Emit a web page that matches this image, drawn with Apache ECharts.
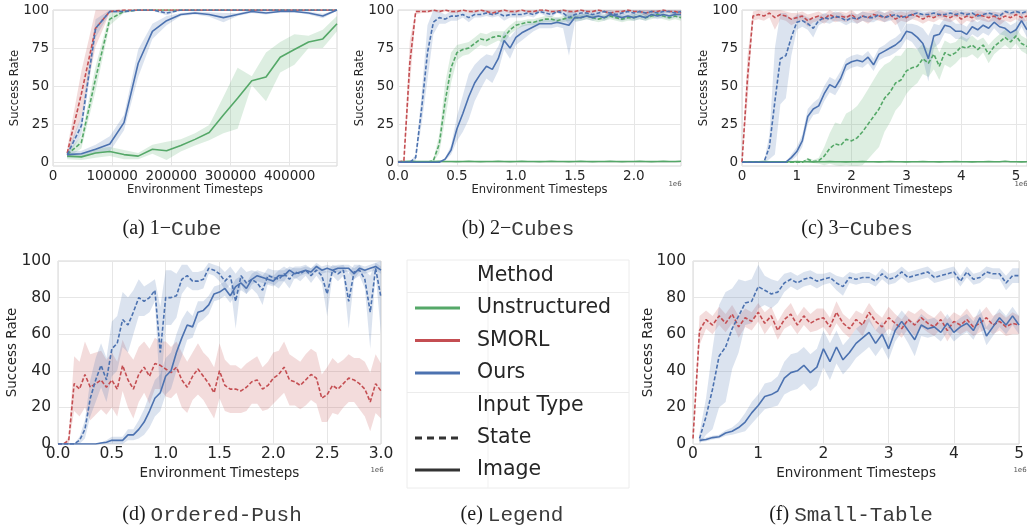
<!DOCTYPE html>
<html>
<head>
<meta charset="utf-8">
<script src="https://cdn.jsdelivr.net/npm/echarts@6/dist/echarts.min.js"></script>
<style>
  html, body { margin: 0; padding: 0; background: #fff; }
  #chart { width: 1027px; height: 529px; }
</style>
</head>
<body>
<div id="chart"></div>
<script>
const GREEN = '#55a868'
const RED = '#c44e52'
const BLUE = '#4c72b0'

// (a) 1-Cube
const xA = [24000, 48000, 72000, 96000, 120000, 144000, 168000, 192000, 216000, 240000,
  264000, 288000, 312000, 336000, 360000, 384000, 408000, 432000, 456000, 480000]
const aUnsImg = [4, 3.5, 6, 7, 5, 4, 8.5, 7.5, 11, 15, 19.5, 31, 42, 53.5, 56, 69, 74, 79, 81, 91]
const aUnsImgSd = [2, 2, 3, 3, 3, 2, 3, 6, 4, 4, 5, 12, 20, 3, 16, 10, 10, 4, 6, 5]
const aUnsState = [5, 13, 55, 94, 99, 100, 100, 100, 100, 100, 100, 100, 100, 100, 100, 100, 100, 100, 100, 100]
const aUnsStateSd = [2, 4, 8, 4, 1, 0.5, 0.3, 0.3, 0.3, 0.3, 0.3, 0.3, 0.3, 0.3, 0.3, 0.3, 0.3, 0.3, 0.3, 0.3]
const aSmorlState = [6, 45, 88, 99, 100, 100, 100, 100, 100, 100, 100, 100, 100, 100, 100, 100, 100, 100, 100, 100]
const aSmorlStateSd = [3, 15, 12, 1, 0.5, 0.3, 0.3, 0.3, 0.3, 0.3, 0.3, 0.3, 0.3, 0.3, 0.3, 0.3, 0.3, 0.3, 0.3, 0.3]
const aOursState = [5, 24, 88, 99, 99, 100, 100, 98, 100, 100, 100, 100, 100, 100, 100, 100, 100, 100, 100, 100]
const aOursStateSd = [2, 6, 6, 1, 1, 0.5, 0.5, 1.5, 0.5, 0.5, 0.5, 0.5, 0.5, 0.5, 0.5, 0.5, 0.5, 0.5, 0.5, 0.5]
const aOursImg = [5, 5.5, 8.5, 12, 26, 65, 86, 93, 97, 98, 97, 95, 97, 99, 98, 99, 99, 98, 96, 100]
const aOursImgSd = [2, 2, 3, 5, 5, 9, 5, 3, 1, 1, 1.5, 3, 1, 1, 1, 0.5, 0.5, 1, 1.5, 0.5]

// (b) 2-Cubes, x in 1e6 steps
const xB = [0, 0.05, 0.1, 0.15, 0.2, 0.25, 0.3, 0.35, 0.4, 0.45,
  0.5, 0.55, 0.6, 0.65, 0.7, 0.75, 0.8, 0.85, 0.9, 0.95,
  1.0, 1.05, 1.1, 1.15, 1.2, 1.25, 1.3, 1.35, 1.4, 1.45,
  1.5, 1.55, 1.6, 1.65, 1.7, 1.75, 1.8, 1.85, 1.9, 1.95,
  2.0, 2.05, 2.1, 2.15, 2.2, 2.25, 2.3, 2.35, 2.4]
const bUnsImg = [0.5, 0.4, 0.6, 0.5, 0.5, 0.4, 0.5, 0.6, 0.5, 0.5,
  0.4, 0.5, 0.6, 0.5, 0.4, 0.5, 0.5, 0.6, 0.5, 0.4,
  0.5, 0.6, 0.5, 0.5, 0.4, 0.5, 0.6, 0.5, 0.5, 0.4,
  0.5, 0.6, 0.5, 0.4, 0.5, 0.5, 0.6, 0.5, 0.4, 0.5,
  0.5, 0.6, 0.5, 0.4, 0.5, 0.6, 0.5, 0.5, 0.6]
const bUnsImgSd = [0.3, 0.3, 0.3, 0.3, 0.3, 0.3, 0.3, 0.3, 0.3, 0.3,
  0.3, 0.3, 0.3, 0.3, 0.3, 0.3, 0.3, 0.3, 0.3, 0.3,
  0.3, 0.3, 0.3, 0.3, 0.3, 0.3, 0.3, 0.3, 0.3, 0.3,
  0.3, 0.3, 0.3, 0.3, 0.3, 0.3, 0.3, 0.3, 0.3, 0.3,
  0.3, 0.3, 0.3, 0.3, 0.3, 0.3, 0.3, 0.3, 0.3]
const bUnsState = [0, 0, 0, 0, 0, 0, 1, 12, 40, 62,
  72, 74, 75, 78, 81, 80, 82, 83, 82, 87,
  90, 91, 92, 92, 93, 94, 94, 93, 94, 95,
  95, 95, 96, 95, 94, 95, 96, 95, 94, 95,
  95, 96, 95, 96, 97, 96, 95, 96, 95]
const bUnsStateSd = [0, 0, 0, 0, 0, 0, 1, 6, 12, 10,
  5, 4, 4, 4, 4, 4, 4, 3, 4, 3,
  3, 2, 2, 2, 2, 2, 2, 2, 2, 2,
  2, 2, 2, 2, 2, 2, 2, 2, 2, 2,
  2, 2, 2, 2, 2, 2, 2, 2, 2]
const bSmorlState = [0, 1, 65, 99, 99, 99, 100, 99, 100, 99,
  99, 100, 99, 99, 100, 99, 98, 99, 100, 99,
  99, 100, 99, 99, 100, 100, 99, 99, 100, 99,
  99, 100, 99, 99, 100, 99, 98, 99, 99, 100,
  99, 99, 98, 99, 99, 100, 99, 99, 98]
const bSmorlStateSd = [0, 1, 15, 2, 1, 1, 1, 1, 1, 1,
  1, 1, 1, 1, 1, 1, 2, 1, 1, 1,
  1, 1, 1, 1, 1, 1, 1, 1, 1, 1,
  1, 1, 1, 1, 1, 1, 2, 1, 1, 1,
  1, 1, 2, 1, 1, 1, 1, 1, 2]
const bOursState = [0, 0, 0, 3, 35, 72, 92, 95, 94, 96,
  96, 97, 95, 97, 97, 98, 97, 98, 96, 97,
  97, 97, 98, 97, 99, 98, 97, 99, 98, 95,
  97, 98, 98, 97, 98, 99, 98, 97, 98, 99,
  98, 99, 98, 99, 98, 99, 99, 98, 99]
const bOursStateSd = [0, 0, 0, 2, 10, 18, 8, 4, 3, 3,
  3, 2, 3, 2, 2, 2, 2, 2, 3, 2,
  2, 2, 2, 2, 1, 2, 2, 1, 2, 5,
  2, 2, 2, 2, 2, 1, 2, 2, 2, 1,
  2, 1, 2, 1, 2, 1, 1, 2, 1]
const bOursImg = [0, 0, 0, 0, 0, 0, 0, 0, 2, 8,
  22, 32, 43, 52, 58, 63, 61, 68, 80, 75,
  82, 85, 87, 89, 91, 91, 91, 92, 91, 90,
  95, 95, 96, 95, 96, 95, 97, 96, 95, 96,
  95, 96, 95, 97, 96, 97, 96, 97, 97]
const bOursImgSd = [0, 0, 0, 0, 0, 0, 0, 0, 1, 3,
  8, 12, 15, 12, 10, 8, 9, 8, 6, 7,
  5, 5, 4, 3, 3, 3, 3, 3, 3, 20,
  3, 2, 2, 2, 2, 2, 2, 2, 2, 2,
  2, 2, 2, 2, 2, 2, 2, 2, 2]

// (c) 3-Cubes, x in 1e6 steps
const xC = [0, 0.1, 0.2, 0.3, 0.4, 0.5, 0.6, 0.7, 0.8, 0.9,
  1.0, 1.1, 1.2, 1.3, 1.4, 1.5, 1.6, 1.7, 1.8, 1.9,
  2.0, 2.1, 2.2, 2.3, 2.4, 2.5, 2.6, 2.7, 2.8, 2.9,
  3.0, 3.1, 3.2, 3.3, 3.4, 3.5, 3.6, 3.7, 3.8, 3.9,
  4.0, 4.1, 4.2, 4.3, 4.4, 4.5, 4.6, 4.7, 4.8, 4.9,
  5.0, 5.1, 5.2]
const cUnsImg = [0.3, 0.3, 0.2, 0.3, 0.4, 0.3, 0.3, 0.2, 0.3, 0.3,
  0.4, 0.3, 0.3, 0.2, 0.3, 0.3, 0.4, 0.3, 0.3, 0.2,
  0.3, 0.3, 0.4, 0.3, 0.3, 0.2, 0.3, 0.5, 0.3, 0.3,
  0.2, 0.3, 0.3, 0.4, 0.3, 0.3, 0.2, 0.3, 0.3, 0.4,
  0.3, 0.3, 0.2, 0.3, 0.3, 0.4, 0.3, 0.3, 0.6, 0.3,
  0.3, 0.2, 0.3]
const cUnsImgSd = [0.2, 0.2, 0.2, 0.2, 0.2, 0.2, 0.2, 0.2, 0.2, 0.2,
  0.2, 0.2, 0.2, 0.2, 0.2, 0.2, 0.2, 0.2, 0.2, 0.2,
  0.2, 0.2, 0.2, 0.2, 0.2, 0.2, 0.2, 0.2, 0.2, 0.2,
  0.2, 0.2, 0.2, 0.2, 0.2, 0.2, 0.2, 0.2, 0.2, 0.2,
  0.2, 0.2, 0.2, 0.2, 0.2, 0.2, 0.2, 0.2, 0.2, 0.2,
  0.2, 0.2, 0.2]
const cUnsState = [0, 0, 0, 0, 0, 0, 0, 0, 0, 0,
  0, 0, 2, 0.5, 1, 4, 9, 12, 11, 15,
  14, 16, 20, 25, 30, 35, 42, 46, 52, 54,
  60, 62, 63, 68, 65, 71, 63, 72, 70, 72,
  76, 75, 77, 74, 77, 71, 76, 79, 82, 79,
  83, 78, 76]
const cUnsStateSd = [0, 0, 0, 0, 0, 0, 0, 0, 0, 0,
  0, 0, 1, 1, 2, 6, 10, 14, 14, 17,
  20, 21, 22, 23, 24, 25, 22, 20, 18, 16,
  15, 13, 11, 10, 9, 10, 9, 8, 8, 7,
  7, 6, 6, 6, 5, 6, 5, 5, 5, 5,
  5, 5, 5]
const cSmorlState = [0, 55, 96, 97, 96, 98, 95, 97, 96, 94,
  95, 96, 93, 95, 96, 94, 97, 95, 96, 95,
  97, 94, 96, 95, 97, 96, 95, 97, 94, 96,
  95, 97, 96, 94, 96, 95, 97, 96, 95, 97,
  94, 96, 95, 97, 96, 95, 96, 94, 96, 95,
  97, 95, 96]
const cSmorlStateSd = [0, 15, 3, 3, 3, 3, 8, 3, 3, 4,
  3, 3, 4, 3, 3, 3, 3, 3, 3, 3,
  3, 3, 3, 4, 3, 3, 3, 3, 4, 3,
  3, 3, 3, 3, 3, 3, 3, 3, 3, 3,
  4, 3, 3, 3, 3, 3, 3, 4, 3, 3,
  3, 3, 3]
const cOursState = [0, 0, 0, 0, 0, 10, 40, 68, 70, 82,
  92, 93, 91, 88, 93, 95, 94, 96, 95, 93,
  95, 94, 96, 95, 95, 97, 95, 96, 97, 95,
  96, 97, 98, 97, 97, 98, 97, 97, 98, 97,
  98, 97, 98, 96, 97, 98, 97, 96, 99, 98,
  99, 98, 99]
const cOursStateSd = [0, 0, 0, 0, 0, 8, 35, 30, 28, 12,
  5, 4, 4, 6, 3, 3, 3, 3, 3, 3,
  3, 3, 3, 3, 3, 3, 3, 3, 3, 10,
  4, 3, 2, 2, 2, 2, 2, 2, 2, 2,
  2, 2, 2, 3, 2, 2, 2, 3, 1, 2,
  1, 2, 1]
const cOursImg = [0, 0, 0, 0, 0, 0, 0, 0, 0, 3,
  7, 14, 30, 35, 37, 45, 51, 49, 55, 64,
  66, 67, 66, 69, 64, 71, 73, 75, 77, 80,
  86, 85, 82, 78, 68, 83, 84, 90, 89, 86,
  86, 84, 89, 87, 90, 88, 92, 89, 88, 85,
  87, 93, 87]
const cOursImgSd = [0, 0, 0, 0, 0, 0, 0, 0, 0, 2,
  3, 4, 5, 4, 5, 5, 5, 5, 5, 4,
  4, 4, 4, 4, 4, 4, 4, 5, 5, 5,
  5, 6, 8, 10, 15, 8, 6, 5, 5, 5,
  5, 5, 5, 5, 5, 5, 4, 5, 5, 5,
  5, 4, 5]

// (d) Ordered-Push, x in 1e6 steps
const xD = [0, 0.05, 0.1, 0.15, 0.2, 0.25, 0.3, 0.35, 0.4, 0.45,
  0.5, 0.55, 0.6, 0.65, 0.7, 0.75, 0.8, 0.85, 0.9, 0.95,
  1.0, 1.05, 1.1, 1.15, 1.2, 1.25, 1.3, 1.35, 1.4, 1.45,
  1.5, 1.55, 1.6, 1.65, 1.7, 1.75, 1.8, 1.85, 1.9, 1.95,
  2.0, 2.05, 2.1, 2.15, 2.2, 2.25, 2.3, 2.35, 2.4, 2.45,
  2.5, 2.55, 2.6, 2.65, 2.7, 2.75, 2.8, 2.85, 2.9, 2.95,
  3.0]
const dSmorlState = [0, 0, 2, 33, 30, 38, 31, 33, 35, 31,
  35, 30, 43, 35, 30, 38, 42, 37, 44, 43,
  41, 39, 42, 35, 31, 37, 41, 37, 33, 28,
  40, 32, 30, 30, 29, 31, 34, 35, 30, 32,
  36, 38, 42, 35, 34, 32, 35, 38, 36, 25,
  27, 32, 30, 33, 36, 35, 33, 30, 23, 33,
  29]
const dSmorlStateSd = [0, 0, 2, 15, 15, 18, 18, 17, 16, 15,
  15, 15, 14, 15, 16, 15, 14, 15, 14, 13,
  15, 14, 14, 15, 14, 13, 14, 13, 14, 14,
  15, 14, 13, 13, 12, 13, 12, 13, 12, 13,
  14, 13, 14, 14, 13, 13, 14, 14, 14, 13,
  15, 15, 14, 13, 13, 12, 14, 15, 16, 16,
  15]
const dOursState = [0, 0, 0, 0, 2, 8, 25, 35, 43, 35,
  52, 55, 68, 65, 72, 80, 78, 80, 84, 50,
  80, 80, 81, 90, 92, 89, 89, 90, 96, 95,
  93, 89, 92, 78, 92, 88, 90, 88, 84, 92,
  91, 90, 93, 90, 94, 93, 95, 92, 95, 92,
  82, 95, 93, 95, 78, 94, 95, 90, 72, 96,
  80]
const dOursStateSd = [0, 0, 0, 0, 2, 5, 10, 12, 12, 12,
  15, 15, 15, 15, 12, 10, 8, 8, 6, 25,
  15, 15, 12, 8, 6, 5, 5, 5, 3, 3,
  4, 5, 5, 15, 5, 6, 5, 6, 8, 4,
  4, 5, 4, 5, 3, 4, 3, 4, 3, 4,
  12, 3, 4, 3, 15, 4, 3, 5, 20, 3,
  20]
const dOursImg = [0, 0, 0, 0, 0, 0, 0, 0, 0.5, 1,
  2, 2, 2, 5, 5, 8, 12, 18, 25, 28,
  37, 40, 50, 58, 65, 64, 72, 73, 76, 82,
  83, 85, 81, 86, 88, 85, 90, 92, 91, 90,
  89, 92, 92, 95, 93, 94, 95, 94, 97, 95,
  96, 95, 96, 96, 96, 93, 96, 95, 96, 97,
  95]
const dOursImgSd = [0, 0, 0, 0, 0, 0, 0, 0, 0.5, 1,
  2, 2, 2, 3, 3, 5, 7, 9, 10, 10,
  10, 10, 10, 10, 8, 6, 6, 5, 5, 4,
  4, 4, 4, 4, 4, 3, 3, 3, 3, 3,
  3, 3, 3, 2, 3, 2, 2, 2, 2, 2,
  2, 2, 2, 2, 2, 3, 2, 2, 2, 2,
  2]

// (f) Small-Table, x in 1e6 steps
const xF = [0, 0.1, 0.2, 0.3, 0.4, 0.5, 0.6, 0.7, 0.8, 0.9,
  1.0, 1.1, 1.2, 1.3, 1.4, 1.5, 1.6, 1.7, 1.8, 1.9,
  2.0, 2.1, 2.2, 2.3, 2.4, 2.5, 2.6, 2.7, 2.8, 2.9,
  3.0, 3.1, 3.2, 3.3, 3.4, 3.5, 3.6, 3.7, 3.8, 3.9,
  4.0, 4.1, 4.2, 4.3, 4.4, 4.5, 4.6, 4.7, 4.8, 4.9,
  5.0]
const fSmorlState = [3, 62, 68, 65, 70, 66, 71, 64, 69, 67,
  72, 66, 70, 62, 68, 71, 65, 70, 66, 68,
  69, 64, 72, 66, 63, 68, 65, 72, 67, 64,
  69, 66, 63, 68, 65, 69, 66, 64, 68, 62,
  67, 65, 68, 64, 66, 69, 65, 67, 64, 66,
  65]
const fSmorlStateSd = [1, 8, 5, 5, 5, 5, 5, 6, 5, 5,
  5, 6, 5, 5, 5, 6, 5, 5, 5, 6,
  5, 5, 6, 5, 5, 5, 6, 5, 5, 5,
  6, 5, 5, 5, 6, 5, 5, 5, 5, 6,
  5, 5, 6, 5, 5, 6, 5, 5, 5, 6,
  5]
const fOursState = [null, 3, 15, 30, 48, 53, 63, 70, 77, 78,
  86, 84, 82, 83, 88, 90, 88, 90, 91, 89,
  90, 91, 88, 86, 91, 90, 91, 91, 89, 93,
  90, 91, 94, 91, 92, 93, 94, 91, 92, 93,
  94, 89, 94, 90, 91, 94, 93, 93, 88, 92,
  92]
const fOursStateSd = [null, 3, 10, 22, 28, 30, 22, 20, 12, 12,
  12, 8, 8, 6, 5, 4, 4, 4, 4, 4,
  3, 3, 4, 5, 3, 3, 3, 3, 3, 3,
  3, 3, 3, 3, 3, 3, 3, 3, 3, 3,
  3, 3, 3, 3, 3, 3, 3, 3, 4, 4,
  4]
const fOursImg = [null, 2, 2.5, 3.5, 4, 6, 7, 9, 12, 17,
  21, 26, 27, 29, 36, 39, 40, 43, 39, 42,
  52, 45, 53, 46, 50, 55, 58, 61, 55, 60,
  52, 62, 67, 62, 57, 65, 63, 64, 61, 66,
  61, 64, 66, 62, 69, 59, 64, 69, 65, 70,
  65]
const fOursImgSd = [null, 1, 1, 1, 1, 1.5, 2, 3, 5, 6,
  6, 7, 7, 8, 9, 10, 10, 10, 10, 10,
  10, 10, 9, 8, 8, 8, 8, 8, 7, 7,
  6, 6, 6, 7, 9, 6, 5, 5, 5, 5,
  5, 5, 5, 5, 5, 5, 5, 5, 5, 5,
  5]

const legendMethods = ['Unstructured', 'SMORL', 'Ours']
const legendMethodColors = [GREEN, RED, BLUE]
const legendInputs = ['State', 'Image']

const FONT = 'DejaVu Sans'
const TEXT = '#262626'

const series = []
const Y_MIN = [-2.5, -2.5, -2.5, 0, 0]

// mean line plus a shaded band drawn as one polygon through the axis scales
function addRun(k, x, mean, sd, color, dashed) {
  const pts = []
  x.forEach((v, i) => {
    if (mean[i] == null) return
    const lo = Math.max(Y_MIN[k], mean[i] - sd[i])
    const hi = Math.min(100, mean[i] + sd[i])
    pts.push([v, lo, hi])
  })
  series.push({
    type: 'custom', xAxisIndex: k, yAxisIndex: k, silent: true, clip: true,
    data: pts, encode: { x: 0, y: [1, 2] },
    renderItem: (params, api) => {
      if (params.dataIndex !== 0) return null
      const up = pts.map((p) => api.coord([p[0], p[2]]))
      const dn = pts.map((p) => api.coord([p[0], p[1]])).reverse()
      return { type: 'polygon', shape: { points: up.concat(dn) }, style: { fill: color, opacity: 0.2 } }
    },
  })
  series.push({
    type: 'line', xAxisIndex: k, yAxisIndex: k, symbol: 'none', silent: true,
    lineStyle: { color, width: 1.6, type: dashed ? [4, 2] : 'solid' },
    data: x.map((v, i) => [v, mean[i]]),
  })
}

addRun(0, xA, aUnsImg, aUnsImgSd, GREEN, false)
addRun(0, xA, aUnsState, aUnsStateSd, GREEN, true)
addRun(0, xA, aSmorlState, aSmorlStateSd, RED, true)
addRun(0, xA, aOursState, aOursStateSd, BLUE, true)
addRun(0, xA, aOursImg, aOursImgSd, BLUE, false)

addRun(1, xB, bUnsImg, bUnsImgSd, GREEN, false)
addRun(1, xB, bUnsState, bUnsStateSd, GREEN, true)
addRun(1, xB, bSmorlState, bSmorlStateSd, RED, true)
addRun(1, xB, bOursState, bOursStateSd, BLUE, true)
addRun(1, xB, bOursImg, bOursImgSd, BLUE, false)

addRun(2, xC, cUnsImg, cUnsImgSd, GREEN, false)
addRun(2, xC, cUnsState, cUnsStateSd, GREEN, true)
addRun(2, xC, cSmorlState, cSmorlStateSd, RED, true)
addRun(2, xC, cOursState, cOursStateSd, BLUE, true)
addRun(2, xC, cOursImg, cOursImgSd, BLUE, false)

addRun(3, xD, dSmorlState, dSmorlStateSd, RED, true)
addRun(3, xD, dOursState, dOursStateSd, BLUE, true)
addRun(3, xD, dOursImg, dOursImgSd, BLUE, false)

addRun(4, xF, fSmorlState, fSmorlStateSd, RED, true)
addRun(4, xF, fOursState, fOursStateSd, BLUE, true)
addRun(4, xF, fOursImg, fOursImgSd, BLUE, false)

const grids = [
  { left: 53, top: 10, width: 284, height: 156 },
  { left: 398, top: 10, width: 283, height: 156 },
  { left: 742, top: 10, width: 285, height: 156 },
  { left: 58, top: 261, width: 323, height: 183 },
  { left: 693, top: 261, width: 330, height: 183 },
].map((g) => ({ ...g, show: true, backgroundColor: '#fff', borderColor: '#d6d6d6', borderWidth: 1 }))

function xAxis(k, min, max, ticks, fmt) {
  const big = k > 2
  return {
    type: 'value', gridIndex: k, min, max,
    axisLine: { show: false },
    axisTick: { show: false, customValues: ticks },
    splitLine: { show: true, lineStyle: { color: '#e6e6e6', width: 1 } },
    axisLabel: { customValues: ticks, formatter: fmt, color: TEXT, fontFamily: FONT,
      fontSize: big ? 15.5 : 13.5, margin: big ? 2 : 3 },
    name: 'Environment Timesteps', nameLocation: 'middle', nameGap: big ? 22 : 18, nameMoveOverlap: false,
    nameTextStyle: { color: TEXT, fontFamily: FONT, fontSize: big ? 13.5 : 11.5, verticalAlign: 'top' },
  }
}
const Y_NAME_GAP = [32, 32, 32, 39, 38]
function yAxis(k) {
  const big = k > 2
  const ticks = big ? [0, 20, 40, 60, 80, 100] : [0, 25, 50, 75, 100]
  return {
    type: 'value', gridIndex: k, min: Y_MIN[k], max: 100,
    axisLine: { show: false },
    axisTick: { show: false, customValues: ticks },
    splitLine: { show: true, lineStyle: { color: '#e6e6e6', width: 1 } },
    axisLabel: { customValues: ticks, formatter: (v) => String(v), color: TEXT, fontFamily: FONT,
      fontSize: big ? 15.5 : 13.5, margin: big ? 7 : 4 },
    name: 'Success Rate', nameLocation: 'middle', nameGap: Y_NAME_GAP[k], nameMoveOverlap: false,
    nameTextStyle: { color: TEXT, fontFamily: FONT, fontSize: big ? 13.5 : 11.5 },
  }
}

const xAxes = [
  xAxis(0, 0, 480000, [0, 100000, 200000, 300000, 400000], (v) => String(v)),
  xAxis(1, 0, 2.4, [0, 0.5, 1, 1.5, 2], (v) => v.toFixed(1)),
  xAxis(2, 0, 5.2, [0, 1, 2, 3, 4, 5], (v) => String(v)),
  xAxis(3, 0, 3, [0, 0.5, 1, 1.5, 2, 2.5, 3], (v) => v.toFixed(1)),
  xAxis(4, 0, 5, [0, 1, 2, 3, 4, 5], (v) => String(v)),
]
const yAxes = [0, 1, 2, 3, 4].map(yAxis)

// captions under each panel
const captions = [
  { x: 172, y: 229, s: '(a) 1\u2212', m: 'Cube' },
  { x: 518, y: 229, s: '(b) 2\u2212', m: 'Cubes' },
  { x: 857, y: 229, s: '(c) 3\u2212', m: 'Cubes' },
  { x: 212, y: 515, s: '(d) ', m: 'Ordered-Push' },
  { x: 512, y: 515, s: '(e) ', m: 'Legend' },
  { x: 851, y: 515, s: '(f) ', m: 'Small-Table' },
]
const graphic = captions.map((c) => ({
  type: 'text', x: c.x, y: c.y,
  style: {
    text: '{s|' + c.s + '}{m|' + c.m + '}', align: 'center', verticalAlign: 'middle',
    rich: {
      s: { fontFamily: 'Liberation Serif', fontSize: 20, fill: '#1a1a1a' },
      m: { fontFamily: 'Liberation Mono', fontSize: 21, fill: '#3a3a3a' },
    },
  },
}))

// offset labels
;[[675, 184], [1021, 184], [377, 470], [1020, 470]].forEach(([x, y]) => {
  graphic.push({ type: 'text', x, y, style: { text: '1e6', fontSize: 7, fontFamily: FONT, fill: '#555',
    align: 'center', verticalAlign: 'middle' } })
})

// legend panel (e)
const LX = 407, LY = 260, LW = 222, LH = 228
graphic.push({ type: 'rect', shape: { x: LX, y: LY, width: LW, height: LH },
  style: { fill: '#fff', stroke: '#ececec', lineWidth: 1 } })
graphic.push({ type: 'line', shape: { x1: 488, y1: LY, x2: 488, y2: LY + LH }, style: { stroke: '#f1f1f1', lineWidth: 1 } })
graphic.push({ type: 'line', shape: { x1: LX, y1: 292.5, x2: LX + LW, y2: 292.5 }, style: { stroke: '#ececec', lineWidth: 1 } })
graphic.push({ type: 'line', shape: { x1: LX, y1: 392.5, x2: LX + LW, y2: 392.5 }, style: { stroke: '#ececec', lineWidth: 1 } })
function legendText(t, y) {
  graphic.push({ type: 'text', x: 477, y, style: { text: t, fontFamily: FONT, fontSize: 20.5, fill: TEXT,
    verticalAlign: 'middle' } })
}
function legendLine(y, color, dashed) {
  graphic.push({ type: 'line', shape: { x1: 415, y1: y, x2: 460, y2: y },
    style: { stroke: color, lineWidth: 3, lineDash: dashed ? [7, 5] : null } })
}
legendText('Method', 276)
legendMethods.forEach((m, i) => {
  const y = 308 + i * 32.5
  legendText(m, y)
  legendLine(y, legendMethodColors[i], false)
})
legendText('Input Type', 406)
legendInputs.forEach((m, i) => {
  const y = 438 + i * 32
  legendText(m, y)
  legendLine(y, '#333', i === 0)
})

const chart = echarts.init(document.getElementById('chart'))
chart.setOption({
  animation: false,
  backgroundColor: '#fff',
  grid: grids,
  xAxis: xAxes,
  yAxis: yAxes,
  series,
  graphic,
})
</script>
</body>
</html>
